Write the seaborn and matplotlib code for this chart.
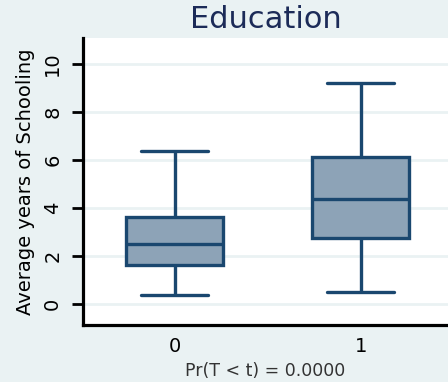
import matplotlib
matplotlib.use("Agg")
import matplotlib.pyplot as plt
import seaborn as sns
import pandas as pd

# Five-number summaries (min, Q1, median, Q3, max) of schooling by treatment group
treat_labels = ["0", "1"]
schooling_0 = [0.36, 1.63, 2.49, 3.61, 6.36]
schooling_1 = [0.49, 2.75, 4.36, 6.11, 9.21]
y_ticks = [0, 2, 4, 6, 8, 10]
title = "Education"
y_label = "Average years of Schooling"
note = "Pr(T < t) = 0.0000"

df = pd.DataFrame({
    "treat": [treat_labels[0]] * len(schooling_0) + [treat_labels[1]] * len(schooling_1),
    "years": schooling_0 + schooling_1,
})

sns.set_theme(style="white")
plt.rcParams["font.family"] = ["DejaVu Sans"]
plt.rcParams["text.color"] = "black"
plt.rcParams["axes.labelcolor"] = "black"
plt.rcParams["xtick.color"] = "black"
plt.rcParams["ytick.color"] = "black"

bg = "#EAF2F3"
navy = "#1A476F"
fill = "#8DA3B7"

fig = plt.figure(figsize=(4.48, 3.82), dpi=100, facecolor=bg)
ax = fig.add_axes([83 / 448, 1 - 325 / 382, 1 - 83 / 448, (325 - 38) / 382])
ax.set_facecolor("white")

sns.boxplot(
    data=df, x="treat", y="years", order=treat_labels, ax=ax,
    whis=(0, 100), width=0.52, color=fill, linecolor=navy, linewidth=2.4,
    fliersize=0, capwidths=0.36, saturation=1,
)

ax.set_xlim(-0.492, 1.470)
ax.set_ylim(-0.875, 11.08)
ax.set_yticks(y_ticks)
ax.set_yticklabels([str(t) for t in y_ticks], rotation=90, va="center")
ax.yaxis.grid(True, color=bg, linewidth=2)
ax.set_axisbelow(True)

for side in ("top", "right"):
    ax.spines[side].set_visible(False)
for side in ("left", "bottom"):
    ax.spines[side].set_color("black")
    ax.spines[side].set_linewidth(2.3)

ax.tick_params(axis="y", length=8, width=2, color="black", pad=7, labelsize=14, left=True)
ax.tick_params(axis="x", length=0, pad=9, labelsize=14)

ax.set_ylabel(y_label, fontsize=14, labelpad=6)
ax.set_xlabel(note, fontsize=12.5, labelpad=4, color="#333333")
ax.set_title(title, fontsize=22, color="#1C2B58", pad=7)

fig.savefig("out.png", dpi=100, facecolor=bg)
